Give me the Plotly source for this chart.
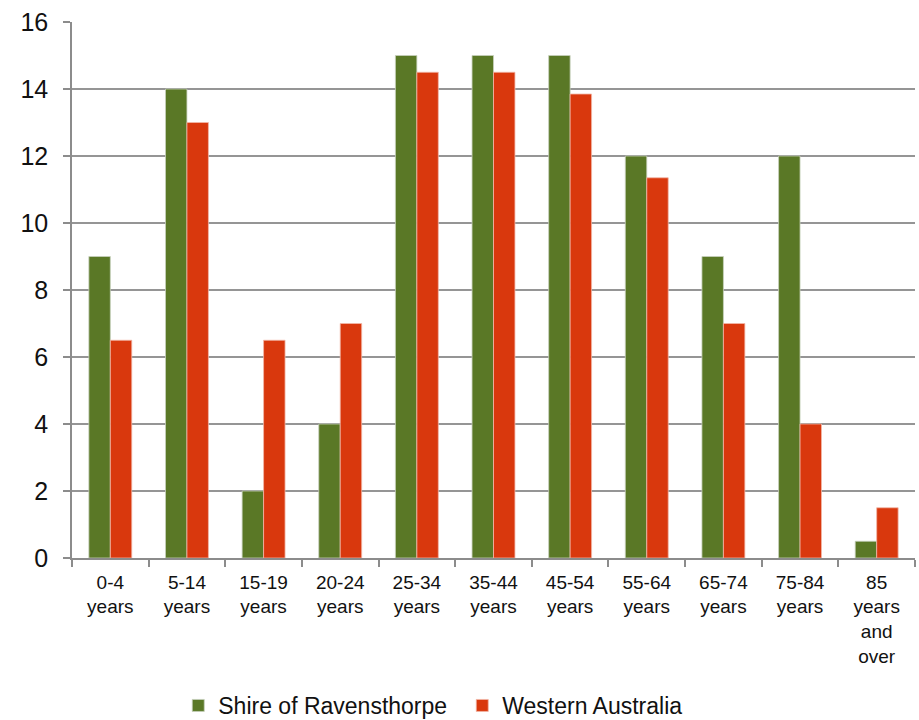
import plotly.graph_objects as go

# Age groups (multi-line tick labels)
age_groups = ["0-4<br>years", "5-14<br>years", "15-19<br>years", "20-24<br>years",
              "25-34<br>years", "35-44<br>years", "45-54<br>years", "55-64<br>years",
              "65-74<br>years", "75-84<br>years", "85<br>years<br>and<br>over"]

# Percentage of population in each age group
shire_values = [9, 14, 2, 4, 15, 15, 15, 12, 9, 12, 0.5]
wa_values = [6.5, 13, 6.5, 7, 14.5, 14.5, 13.85, 11.35, 7, 4, 1.5]

y_ticks = [0, 2, 4, 6, 8, 10, 12, 14, 16]

fig = go.Figure()
fig.add_trace(go.Bar(
    x=age_groups, y=shire_values, name="Shire of Ravensthorpe",
    marker=dict(color="#5A7826", line=dict(color="#c8d0bc", width=0.8)),
))
fig.add_trace(go.Bar(
    x=age_groups, y=wa_values, name="Western Australia",
    marker=dict(color="#D9380D", line=dict(color="#f2b8a8", width=0.8)),
))

fig.update_layout(
    width=919, height=720,
    margin=dict(l=72, r=4, t=22, b=162),
    paper_bgcolor="white", plot_bgcolor="white",
    barmode="group", bargap=0.44, bargroupgap=0,
    font=dict(family="Liberation Sans, Arial, sans-serif", color="#111111"),
    legend=dict(orientation="h", x=0.503, xanchor="center", xref="container",
                y=0.05, yanchor="top", yref="container",
                font=dict(size=23), itemwidth=30, entrywidth=239,
                entrywidthmode="pixels", traceorder="normal"),
    showlegend=True,
)
fig.update_xaxes(
    automargin=False,
    showline=True, linecolor="#8c8c8c", linewidth=1.5,
    ticks="outside", tickson="boundaries", ticklen=7, tickcolor="#8c8c8c", tickwidth=1.5,
    tickfont=dict(size=19), ticklabelstandoff=6, showgrid=False,
)
fig.update_yaxes(
    automargin=False,
    range=[0, 16], tickvals=y_ticks, showline=True, linecolor="#8c8c8c", linewidth=1.5,
    ticks="outside", ticklen=7, tickcolor="#8c8c8c", tickwidth=1.5,
    showgrid=True, gridcolor="#959595", gridwidth=1.5,
    tickfont=dict(size=25), ticklabelstandoff=10, zeroline=False,
)

fig.write_html("out.html")
